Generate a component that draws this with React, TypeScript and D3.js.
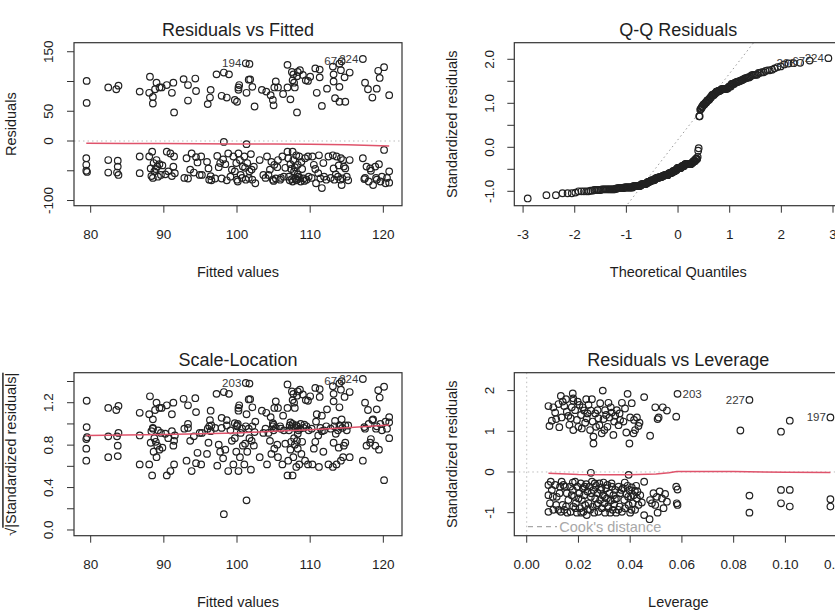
import React from 'react';
import * as d3 from 'd3';

// ---------- data ----------
// [fitted value, raw residual]; first three are the identified points
const labeledPairs: [number, number][] = [[117.2, 137.8], [114.3, 134], [101.2, 130.6]];
const upperPairs: [number, number][] = [
  [79.45,101],[79.45,64],[82.4,90],[83.5,87],[83.8,93],[86.7,83],[88,81],[88.1,108],[88.5,74],[88.5,63],[89,98],[88.8,87],[89.4,90],[89.7,90],[90.4,94],[91.1,81],[91.3,98],[91.4,48],[92.7,104],[93.3,94],[93.3,68],[94.3,105],[94.4,84],[96,62],[96.3,73],[96.4,86],[97.2,112],[97.9,76],[98.2,115],[98.6,73],[98.9,112],[99.7,69],[100,66],[100.2,90],[100.3,94],[100.2,86],[101.7,129.5],[101.6,103],[101.8,103.5],[101.3,81],[102.1,91],[102.4,58],[103.4,86],[104,83],[104.6,77],[104.9,69],[105,60],[105.3,100],[105.1,90],[105.6,90],[106.3,79],[106.9,128],[106.9,90],[107.3,70],[107.5,116],[107.7,112],[107.6,102],[107.8,98],[107.9,90],[108.2,48],[108.3,116],[108.2,109],[108.6,119],[109,111],[109.4,102],[109.7,101],[110,108],[110.7,122],[111.3,120],[110.9,81],[111.3,107],[111.6,59],[112.3,88],[113.1,125],[113.2,112],[113.2,100],[113.4,72],[114,130],[114.2,119],[114,91],[114.7,107],[114,66],[114.8,66],[115.4,115],[117.5,98],[117.9,87],[118.5,73],[119.1,88],[119.3,118],[119.5,106],[120.1,124],[120.8,77]
];
const lowerPairs: [number, number][] = [
  [79.4,-29],[79.4,-40],[79.4,-50],[79.5,-52],[82.4,-32],[82.4,-53],[83.7,-33],[83.7,-43],[83.6,-53],[83.8,-57],[86.7,-26],[86.7,-54],
  [88.0,-26],[88.2,-46],[88.4,-18],[88.6,-37],[88.7,-51],[89.0,-32],[89.1,-43],[89.4,-39],[89.6,-57],[88.3,-59],
  [90.4,-18],[90.6,-51],[90.9,-21],[91.1,-59],[91.3,-43],[91.4,-26],[91.5,-54],
  [93.1,-29],[93.3,-63],[93.8,-21],[94.1,-53],[94.4,-27],[94.6,-36],[94.9,-57],[95.1,-26],[95.2,-57],
  [95.9,-35],[96.1,-46],[96.2,-65],[96.4,-59],[97.0,-63],[97.3,-25],[97.7,-37],[97.9,-63],[98.1,-31],[98.2,-1.5],[98.4,-39],
  [98.8,-21],[99.1,-60],[99.5,-26],[99.7,-51],[99.9,-37],[100.0,-65],[100.2,-21],[100.4,-32],[100.5,-57],[100.8,-43],[101.0,-26],[101.2,-65],[101.3,-5.3],[101.4,-37],[101.7,-51],[101.9,-22],[102.1,-65],[102.3,-43],[102.5,-71],
  [103.1,-32],[103.6,-57],[104.1,-26],[104.3,-57],[104.7,-35],[104.9,-65],[105.1,-40],[105.3,-63],[105.6,-32],[105.9,-65],[106.2,-26],[106.4,-60],
  [106.9,-18],[107.0,-29],[107.1,-60],[107.3,-39],[107.5,-64],[107.6,-18],[107.7,-32],[107.8,-51],[108.0,-63],[108.1,-24],[108.2,-65],[108.3,-40],[108.4,-60],[108.5,-26],[108.7,-68],[108.8,-35],[109.1,-63],[109.3,-29],[109.5,-65],[109.7,-26],
  [110.3,-26],[110.5,-40],[110.8,-71],[111.1,-54],[111.2,-24],[111.4,-63],[111.6,-79],[111.8,-37],[112.2,-65],[112.5,-26],
  [113.1,-24],[113.2,-46],[113.3,-65],[113.6,-26],[113.8,-60],[114.1,-65],[114.2,-29],[114.3,-74],[114.5,-32],[114.6,-43],[115.0,-60],[115.4,-32],
  [117.2,-29],[117.4,-64],[117.7,-43],[118.0,-68],[118.3,-50],[118.6,-74],[118.9,-43],[119.1,-65],[119.4,-39],[119.6,-68],[120.1,-15],[120.3,-71],[120.8,-51],[120.8,-70],
  [88.5,-62],[89.2,-60],[88.9,-47],[89.8,-41],[90.2,-56],[92.8,-62],[93.6,-48],[96.5,-66],[97.5,-44],[98.6,-66],[99.3,-48],[100.1,-68],[100.7,-62],[101.1,-45],[101.6,-62],[102.0,-48],[103.9,-62],[104.5,-48],[105.0,-67],[105.5,-44],[106.0,-62],[106.6,-45],[107.2,-66],[107.4,-47],[107.6,-68],[107.9,-44],[108.1,-66],[108.3,-56],[108.6,-62],[108.9,-47],[109.2,-67],[109.8,-60],[110.2,-62],[110.7,-47],[111.9,-60],[112.8,-62],[113.5,-56],[113.9,-41],[114.4,-63],[114.8,-46],[115.2,-66],[117.5,-62],[118.2,-46],[119.0,-62],[119.8,-60],[120.5,-62]
];
const residualScale = 68; // residual standard error
const rvfIds = ['224', '67', '194'];
const slIds = ['224', '67', '203'];
const qqIds = ['224', '67', '203'];

// [leverage, standardized residual]; first three are identified
const levLabeled: [number, number][] = [[0.0583, 1.92], [0.0861, 1.77], [0.1174, 1.34]];
const levIds = ['203', '227', '197'];
const levUpper: [number, number][] = [
  [0.0084,1.62],[0.0088,1.13],[0.0097,1.26],[0.0103,1.59],[0.011,1.46],[0.0126,1.10],[0.0132,1.87],[0.0135,1.34],[0.0139,1.73],[0.0145,1.62],[0.0155,1.48],[0.0165,1.16],[0.017,1.32],[0.0178,1.93],[0.018,1.81],[0.018,1.75],[0.018,1.03],[0.0187,1.52],[0.0194,1.28],[0.0204,1.65],[0.021,1.40],[0.0213,1.07],[0.0222,1.51],[0.023,1.79],[0.0232,1.32],[0.0239,1.65],[0.0245,1.03],[0.0248,1.51],[0.0255,1.24],[0.0258,0.87],[0.0258,0.70],[0.0265,1.44],[0.0268,1.11],[0.0277,1.32],[0.0284,1.69],[0.029,0.95],[0.0294,2.0],[0.0297,1.30],[0.0303,1.52],[0.0312,1.11],[0.0316,1.70],[0.032,1.34],[0.0329,1.46],[0.0335,0.91],[0.0338,1.24],[0.0348,1.52],[0.0355,1.15],[0.0361,1.28],[0.0368,1.70],[0.0385,0.97],[0.039,1.92],[0.0397,0.70],[0.04,1.34],[0.0406,1.69],[0.0413,0.95],[0.0415,1.28],[0.0426,1.34],[0.0436,1.21],[0.0454,1.84],[0.0477,0.89],[0.0497,1.59],[0.0506,1.30],[0.051,1.34],[0.0526,1.59],[0.0542,1.51],[0.0578,1.36],[0.0826,1.02],[0.0983,0.99],[0.1017,1.26],
  [0.0114,1.30],[0.0123,1.67],[0.0152,1.79],[0.0161,1.38],[0.0174,1.59],[0.0197,1.73],[0.02,1.11],[0.0217,1.59],[0.0226,1.21],[0.0235,1.44],[0.0252,1.79],[0.0274,1.52],[0.0281,1.15],[0.03,1.03],[0.0307,1.40],[0.0325,1.59],[0.0342,1.38],[0.0359,1.44],[0.0374,1.24],[0.038,1.56],[0.0419,1.03],[0.0432,1.13]
];
const levLower: [number, number][] = [
  [0.0084,-0.32],[0.0084,-0.57],[0.0084,-0.98],[0.009,-0.77],[0.0097,-0.44],[0.0103,-0.93],[0.011,-0.32],[0.0116,-0.61],[0.0123,-0.93],[0.0129,-0.36],
  [0.0135,-0.24],[0.0139,-0.81],[0.0142,-0.32],[0.0145,-0.93],[0.0155,-0.52],[0.0161,-0.69],[0.0168,-0.36],[0.0170,-0.98],[0.0178,-0.44],[0.018,-0.85],
  [0.0183,-0.61],[0.0187,-0.24],[0.0190,-0.77],[0.0194,-1.0],[0.0196,-0.36],[0.0204,-0.52],[0.0206,-0.89],[0.0209,-0.28],[0.0213,-0.69],[0.0217,-0.40],
  [0.0219,-0.98],[0.0222,-0.57],[0.0226,-0.81],[0.023,-0.30],[0.0232,-1.06],[0.0235,-0.48],[0.0239,-0.77],[0.0243,-0.36],[0.0245,-0.93],[0.0248,-0.61],
  [0.0252,-0.24],[0.0255,-0.85],[0.0258,-0.44],[0.0261,-1.0],[0.0265,-0.65],[0.0268,-0.34],[0.0271,-0.81],[0.0274,-0.52],[0.0277,-0.98],[0.0281,-0.28],
  [0.0284,-0.69],[0.0286,-0.44],[0.029,-0.89],[0.0294,-0.57],[0.0297,-0.26],[0.03,-0.77],[0.0303,-1.0],[0.0307,-0.40],[0.031,-0.65],[0.0312,-0.32],
  [0.0316,-0.89],[0.032,-0.52],[0.0323,-1.0],[0.0325,-0.70],[0.0329,-0.36],[0.0332,-0.93],[0.0335,-0.57],[0.0338,-0.79],[0.0342,-0.44],[0.0346,-1.0],
  [0.0348,-0.65],[0.0355,-0.36],[0.0359,-0.85],[0.0361,-0.52],[0.0368,-0.98],[0.0372,-0.40],[0.0377,-0.69],[0.038,-0.89],[0.0385,-0.54],[0.039,-0.34],
  [0.0394,-0.81],[0.0397,-0.44],[0.04,-1.0],[0.0403,-0.61],[0.0406,-0.38],[0.041,-0.77],[0.0413,-0.57],[0.0419,-0.93],[0.0423,-0.34],[0.0426,-0.65],
  [0.0428,-0.48],[0.0432,-0.81],[0.0439,-0.57],[0.0445,-0.75],[0.0454,-0.24],[0.0454,-1.06],[0.0475,-1.16],[0.0477,-0.69],[0.0484,-0.77],[0.049,-0.52],
  [0.0497,-0.81],[0.0503,-0.61],[0.0506,-1.0],[0.0514,-0.48],[0.0523,-0.65],[0.0529,-0.89],[0.0535,-0.54],[0.0542,-0.73],[0.0578,-0.36],[0.0583,-0.43],
  [0.0583,-0.81],[0.058,-0.77],[0.0861,-0.58],[0.0861,-1.0],[0.0983,-0.44],[0.1017,-0.44],[0.0983,-0.77],[0.1017,-0.85],[0.1174,-0.67],[0.1174,-0.85],
  [0.0248,-0.02],[0.0394,-0.07],
  [0.0093,-0.24],[0.0101,-0.61],[0.0114,-0.81],[0.0127,-0.52],[0.0132,-0.98],[0.0148,-0.36],[0.0152,-0.85],[0.0157,-1.0],[0.0174,-0.57],[0.0178,-0.26],
  [0.0188,-0.89],[0.02,-0.65],[0.0211,-1.0],[0.0224,-0.36],[0.0236,-0.92],[0.025,-0.52],[0.0263,-0.28],[0.0276,-0.77],[0.0289,-0.38],[0.0302,-0.61],
  [0.0315,-0.84],[0.0328,-0.28],[0.0341,-0.67],[0.0354,-0.93],[0.0366,-0.44],[0.0379,-0.26],[0.0392,-0.61],[0.0405,-0.93],[0.0418,-0.46]
];

// red smoothers
const rvfSmoothX = [79.4, 85, 90, 95, 100, 105, 110, 115, 120.8];
const rvfSmoothY = [-3.8, -4, -4.3, -4.6, -4.9, -5.2, -5.6, -6.4, -8.2];
const slSmoothX = [79.4, 90, 100, 105, 110, 115, 120.8];
const slSmoothY = [0.89, 0.9, 0.915, 0.93, 0.945, 0.965, 0.99];
const levSmoothX = [0.0084, 0.02, 0.03, 0.04, 0.05, 0.055, 0.058, 0.08, 0.1, 0.1174];
const levSmoothY = [-0.03, -0.06, -0.07, -0.07, -0.05, -0.02, 0.01, 0.01, -0.005, -0.015];

// axes
const fittedTicks = [80, 90, 100, 110, 120];
const rvfYTicks = [-100, -50, 0, 50, 100, 150];
const rvfYLabels = ['-100', '', '0', '50', '', '150'];
const qqXTicks = [-3, -2, -1, 0, 1, 2, 3];
const qqYTicks = [-1, -0.5, 0, 0.5, 1, 1.5, 2];
const qqYLabels = ['-1.0', '', '0.0', '', '1.0', '', '2.0'];
const slYTicks = [0, 0.2, 0.4, 0.6, 0.8, 1.0, 1.2, 1.4];
const slYLabels = ['0.0', '', '0.4', '', '0.8', '', '1.2', ''];
const levXTicks = [0, 0.02, 0.04, 0.06, 0.08, 0.1, 0.12];
const levYTicks = [-1, 0, 1, 2];

// ---------- helpers ----------
function qnorm(p: number): number {
  const a = [-3.969683028665376e1, 2.209460984245205e2, -2.759285104469687e2, 1.38357751867269e2, -3.066479806614716e1, 2.506628277459239];
  const b = [-5.447609879822406e1, 1.615858368580409e2, -1.556989798598866e2, 6.680131188771972e1, -1.328068155288572e1];
  const c = [-7.784894002430293e-3, -3.223964580411365e-1, -2.400758277161838, -2.549732539343734, 4.374664141464968, 2.938163982698783];
  const d = [7.784695709041462e-3, 3.224671290700398e-1, 2.445134137142996, 3.754408661907416];
  const pl = 0.02425;
  if (p < pl) {
    const q = Math.sqrt(-2 * Math.log(p));
    return (((((c[0] * q + c[1]) * q + c[2]) * q + c[3]) * q + c[4]) * q + c[5]) / ((((d[0] * q + d[1]) * q + d[2]) * q + d[3]) * q + 1);
  }
  if (p <= 1 - pl) {
    const q = p - 0.5; const r = q * q;
    return (((((a[0] * r + a[1]) * r + a[2]) * r + a[3]) * r + a[4]) * r + a[5]) * q / (((((b[0] * r + b[1]) * r + b[2]) * r + b[3]) * r + b[4]) * r + 1);
  }
  const q = Math.sqrt(-2 * Math.log(1 - p));
  return -(((((c[0] * q + c[1]) * q + c[2]) * q + c[3]) * q + c[4]) * q + c[5]) / ((((d[0] * q + d[1]) * q + d[2]) * q + d[3]) * q + 1);
}

const FONT = '"Liberation Sans", Arial, Helvetica, sans-serif';
const INK = '#1e1e1e';
const RED = '#DF536B';
const GRAY = '#a8a8a8';
const R = 3.3;

type Box = { x0: number; x1: number; y0: number; y1: number };
type Sc = d3.ScaleLinear<number, number>;

function Panel(props: {
  id: string; box: Box; xDomain: [number, number]; yDomain: [number, number];
  xTicks: number[]; xLabels: string[]; yTicks: number[]; yLabels: string[];
  title: string; xTitle: string; yTitle: React.ReactNode;
  children: (x: Sc, y: Sc) => React.ReactNode;
}) {
  const { id, box, xDomain, yDomain, xTicks, xLabels, yTicks, yLabels, title, xTitle, yTitle, children } = props;
  const x = d3.scaleLinear().domain(xDomain).range([box.x0, box.x1]);
  const y = d3.scaleLinear().domain(yDomain).range([box.y1, box.y0]);
  const cx = (box.x0 + box.x1) / 2;
  const cy = (box.y0 + box.y1) / 2;
  return (
    <g>
      <defs>
        <clipPath id={`clip-${id}`}>
          <rect x={box.x0} y={box.y0} width={box.x1 - box.x0} height={box.y1 - box.y0} />
        </clipPath>
      </defs>
      <g clipPath={`url(#clip-${id})`}>{children(x, y)}</g>
      <rect x={box.x0} y={box.y0} width={box.x1 - box.x0} height={box.y1 - box.y0} fill="none" stroke="#333" strokeWidth={1.2} />
      {xTicks.map((t, i) => (
        <g key={`xt${i}`}>
          <line x1={x(t)} x2={x(t)} y1={box.y1} y2={box.y1 + 7} stroke="#333" strokeWidth={1} />
          <text x={x(t)} y={box.y1 + 33.3} fontSize={13.5} textAnchor="middle" fill={INK}>{xLabels[i]}</text>
        </g>
      ))}
      {yTicks.map((t, i) => (
        <g key={`yt${i}`}>
          <line x1={box.x0 - 7} x2={box.x0} y1={y(t)} y2={y(t)} stroke="#333" strokeWidth={1} />
          {yLabels[i] ? (
            <text transform={`translate(${box.x0 - 20.8},${y(t)}) rotate(-90)`} fontSize={13.5} textAnchor="middle" fill={INK}>{yLabels[i]}</text>
          ) : null}
        </g>
      ))}
      <text x={cx} y={box.y0 - 6.7} fontSize={18} textAnchor="middle" fill={INK}>{title}</text>
      <text x={cx} y={box.y1 + 70.8} fontSize={14.5} textAnchor="middle" fill={INK}>{xTitle}</text>
      <text transform={`translate(${box.x0 - 57.8},${cy}) rotate(-90)`} fontSize={14.5} textAnchor="middle" fill={INK}>{yTitle}</text>
    </g>
  );
}

function Circles({ xs, ys, x, y }: { xs: number[]; ys: number[]; x: Sc; y: Sc }) {
  return (
    <g>
      {xs.map((v, i) => (
        <circle key={i} cx={x(v)} cy={y(ys[i])} r={R} fill="none" stroke="#222" strokeWidth={1.2} />
      ))}
    </g>
  );
}

function IdLabels({ xs, ys, labels, x, y, side }: { xs: number[]; ys: number[]; labels: string[]; x: Sc; y: Sc; side: ('l' | 'r')[] }) {
  return (
    <g>
      {labels.map((lab, i) => (
        <text key={i} x={x(xs[i]) + (side[i] === 'l' ? -4.5 : 5)} y={y(ys[i]) + 4} fontSize={11.5}
          textAnchor={side[i] === 'l' ? 'end' : 'start'} fill="#3a3a3a">{lab}</text>
      ))}
    </g>
  );
}

export default function App() {
  const allPairs = [...labeledPairs, ...upperPairs, ...lowerPairs];
  const fitted = allPairs.map((p) => p[0]);
  const resid = allPairs.map((p) => p[1]);
  const stdRes = resid.map((r) => r / residualScale);
  const sqrtAbs = stdRes.map((s) => Math.sqrt(Math.abs(s)));

  // Q-Q
  const n = stdRes.length;
  const order = d3.range(n).sort((i, j) => stdRes[i] - stdRes[j]);
  const qqX = order.map((_, k) => qnorm((k + 0.5) / n));
  const qqY = order.map((i) => stdRes[i]);
  const qqLabelX: number[] = []; const qqLabelY: number[] = [];
  [0, 1, 2].forEach((idx) => { const k = order.indexOf(idx); qqLabelX.push(qqX[k]); qqLabelY.push(qqY[k]); });
  const sortedY = [...stdRes].sort((a, b) => a - b);
  const q1 = d3.quantileSorted(sortedY, 0.25) as number;
  const q3 = d3.quantileSorted(sortedY, 0.75) as number;
  const slope = (q3 - q1) / (qnorm(0.75) - qnorm(0.25));
  const intercept = q1 - slope * qnorm(0.25);

  const levAll = [...levLabeled, ...levUpper, ...levLower];
  const levX = levAll.map((p) => p[0]);
  const levY = levAll.map((p) => p[1]);

  const B1: Box = { x0: 74, x1: 402, y0: 42.7, y1: 205.7 };
  const B2: Box = { x0: 514.3, x1: 842.3, y0: 42.7, y1: 205.7 };
  const B3: Box = { x0: 74, x1: 402, y0: 372.7, y1: 535.7 };
  const B4: Box = { x0: 514.3, x1: 842.3, y0: 372.7, y1: 535.7 };

  const line = (x: Sc, y: Sc, xs: number[], ys: number[]) =>
    d3.line<number>().x((_, i) => x(xs[i])).y((v) => y(v))(ys) || '';

  return (
    <svg width={835} height={612} style={{ position: 'absolute', left: 0, top: 0, background: '#fff' }} fontFamily={FONT}>
      <rect x={0} y={0} width={835} height={612} fill="#fff" />
      <Panel id="p1" box={B1} xDomain={[77.72, 122.55]} yDomain={[-108.7, 165.2]}
        xTicks={fittedTicks} xLabels={fittedTicks.map(String)} yTicks={rvfYTicks} yLabels={rvfYLabels}
        title="Residuals vs Fitted" xTitle="Fitted values" yTitle="Residuals">
        {(x, y) => (
          <g>
            <line x1={B1.x0} x2={B1.x1} y1={y(0)} y2={y(0)} stroke="#bdbdbd" strokeWidth={1} strokeDasharray="1.5,3" />
            <Circles xs={fitted} ys={resid} x={x} y={y} />
            <path d={line(x, y, rvfSmoothX, rvfSmoothY)} fill="none" stroke={RED} strokeWidth={1.5} />
          </g>
        )}
      </Panel>
      <g>
        <IdLabels xs={fitted.slice(0, 3)} ys={resid.slice(0, 3)} labels={rvfIds}
          x={d3.scaleLinear().domain([77.72, 122.55]).range([B1.x0, B1.x1])}
          y={d3.scaleLinear().domain([-108.7, 165.2]).range([B1.y1, B1.y0])} side={['l', 'l', 'l']} />
      </g>

      <Panel id="p2" box={B2} xDomain={[-3.17, 3.18]} yDomain={[-1.327, 2.377]}
        xTicks={qqXTicks} xLabels={qqXTicks.map(String)} yTicks={qqYTicks} yLabels={qqYLabels}
        title="Q-Q Residuals" xTitle="Theoretical Quantiles" yTitle="Standardized residuals">
        {(x, y) => (
          <g>
            <line x1={x(-3.17)} x2={x(3.18)} y1={y(intercept + slope * -3.17)} y2={y(intercept + slope * 3.18)}
              stroke="#9a9a9a" strokeWidth={1} strokeDasharray="1.5,3" />
            <Circles xs={qqX} ys={qqY} x={x} y={y} />
          </g>
        )}
      </Panel>
      <IdLabels xs={qqLabelX} ys={qqLabelY} labels={qqIds}
        x={d3.scaleLinear().domain([-3.17, 3.18]).range([B2.x0, B2.x1])}
        y={d3.scaleLinear().domain([-1.327, 2.377]).range([B2.y1, B2.y0])} side={['l', 'l', 'l']} />

      <Panel id="p3" box={B3} xDomain={[77.72, 122.55]} yDomain={[-0.054, 1.483]}
        xTicks={fittedTicks} xLabels={fittedTicks.map(String)} yTicks={slYTicks} yLabels={slYLabels}
        title="Scale-Location" xTitle="Fitted values"
        yTitle={<>√<tspan textDecoration="overline" style={{ textDecoration: 'overline' }}>|Standardized residuals|</tspan></>}>
        {(x, y) => (
          <g>
            <Circles xs={fitted} ys={sqrtAbs} x={x} y={y} />
            <path d={line(x, y, slSmoothX, slSmoothY)} fill="none" stroke={RED} strokeWidth={1.5} />
          </g>
        )}
      </Panel>
      <IdLabels xs={fitted.slice(0, 3)} ys={sqrtAbs.slice(0, 3)} labels={slIds}
        x={d3.scaleLinear().domain([77.72, 122.55]).range([B3.x0, B3.x1])}
        y={d3.scaleLinear().domain([-0.054, 1.483]).range([B3.y1, B3.y0])} side={['l', 'l', 'l']} />

      <Panel id="p4" box={B4} xDomain={[-0.0048, 0.122]} yDomain={[-1.566, 2.44]}
        xTicks={levXTicks} xLabels={levXTicks.map((t) => t.toFixed(2))} yTicks={levYTicks} yLabels={levYTicks.map(String)}
        title="Residuals vs Leverage" xTitle="Leverage" yTitle="Standardized residuals">
        {(x, y) => (
          <g>
            <line x1={x(0)} x2={x(0)} y1={B4.y0} y2={B4.y1} stroke="#bdbdbd" strokeWidth={1} strokeDasharray="1.5,3" />
            <line x1={B4.x0} x2={B4.x1} y1={y(0)} y2={y(0)} stroke="#bdbdbd" strokeWidth={1} strokeDasharray="1.5,3" />
            <Circles xs={levX} ys={levY} x={x} y={y} />
            <path d={line(x, y, levSmoothX, levSmoothY)} fill="none" stroke={RED} strokeWidth={1.5} />
            <line x1={528} x2={557} y1={526.7} y2={526.7} stroke={GRAY} strokeWidth={1.2} strokeDasharray="5,4" />
            <text x={559.3} y={531.7} fontSize={14.5} fill={GRAY}>Cook's distance</text>
          </g>
        )}
      </Panel>
      <IdLabels xs={levX.slice(0, 3)} ys={levY.slice(0, 3)} labels={levIds}
        x={d3.scaleLinear().domain([-0.0048, 0.122]).range([B4.x0, B4.x1])}
        y={d3.scaleLinear().domain([-1.566, 2.44]).range([B4.y1, B4.y0])} side={['r', 'l', 'l']} />
    </svg>
  );
}
